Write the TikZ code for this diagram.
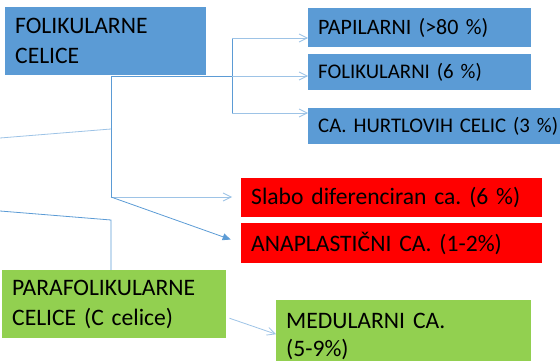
\documentclass[tikz,border=0pt]{standalone}
\usepackage{fontspec}
\setmainfont{Carlito}
\frenchspacing
\usepackage{tikz}
\usetikzlibrary{positioning, arrows.meta}

\definecolor{boxblue}{HTML}{5B9BD5}
\definecolor{boxred}{HTML}{FF0000}
\definecolor{boxgreen}{HTML}{92D050}
\definecolor{linkblue}{HTML}{5B9BD5}
\definecolor{linklight}{HTML}{9DC3E6}

\begin{document}
\begin{tikzpicture}[x=1pt, y=-1pt,
    box/.style={anchor=north west, inner xsep=10pt, inner ysep=0pt, align=left,
      font=\fontsize{23.6}{30}\selectfont},
    bluebox/.style={box, fill=boxblue},
    redbox/.style={box, fill=boxred},
    greenbox/.style={box, fill=boxgreen},
    link/.style={draw=linkblue, line width=0.8pt},
    openarrow/.style={link, draw=linklight, -{Straight Barb[length=8pt, width=8pt]}},
    fullarrow/.style={link, -{Triangle[length=8pt, width=7pt]}}
  ]
    \useasboundingbox (0,0) rectangle (560,361);
    \clip (0,0) rectangle (560,361);

    % Cell types
    \node[bluebox, text width=181pt, minimum height=68pt] (folcel) at (5,7) {FOLIKULARNE\\CELICE};
    \node[greenbox, text width=204pt, minimum height=68pt] (paracel) at (2,270) {PARAFOLIKULARNE\\CELICE (C celice)};

    % Carcinomas
    \node[bluebox, text width=203pt, minimum height=39pt, font=\fontsize{22}{26}\selectfont] (papil) at (308,8) {PAPILARNI (>80 \%)};
    \node[bluebox, text width=203pt, minimum height=36pt, font=\fontsize{20.8}{24}\selectfont] (folik) at (308,54) {FOLIKULARNI (6 \%)};
    \node[bluebox, text width=250pt, minimum height=36pt, font=\fontsize{20.8}{24}\selectfont] (hurtle) at (308,108) {CA. HURTLOVIH CELIC (3 \%)};
    \node[redbox, text width=281pt, minimum height=39pt] (slabo) at (241,178) {Slabo diferenciran ca. (6 \%)};
    \node[redbox, text width=281pt, minimum height=40pt] (anapl) at (241,223) {ANAPLASTIČNI CA. (1-2\%)};
    \node[greenbox, text width=235pt, minimum height=72pt, font=\fontsize{23.6}{28}\selectfont] (medul) at (276,300) {MEDULARNI CA.\\(5-9\%)};

    % Junctions
    \coordinate (top) at (111,76);
    \coordinate (fork) at (232,76);
    \coordinate (forkup) at (232,38);
    \coordinate (forkdown) at (232,113);
    \coordinate (low) at (111,197);
    \coordinate (inA) at (0,138);
    \coordinate (inAend) at (111,129);
    \coordinate (inB) at (0,211);
    \coordinate (inBend) at (111,220);

    % Connectors
    \draw[link] (top) -- (fork);
    \draw[link] (forkup) -- (forkdown);
    \draw[openarrow] (forkup) -- (papil.west |- forkup);
    \draw[openarrow] (fork) -- (folik.west |- fork);
    \draw[openarrow] (forkdown) -- (hurtle.west |- forkdown);
    \draw[link] (top) -- (low);
    \draw[link, draw=linklight] (inA) -- (inAend);
    \draw[openarrow, shorten >=9pt] (low) -- (slabo.west |- low);
    \draw[fullarrow, shorten >=11pt] (low) -- (anapl.west);
    \draw[link] (inB) -- (inBend) -- (paracel.north -| inBend);
    \draw[openarrow] ([yshift=-14pt]paracel.east) ++(3,0) -- ([yshift=2pt]medul.west);
  \end{tikzpicture}
\end{document}
